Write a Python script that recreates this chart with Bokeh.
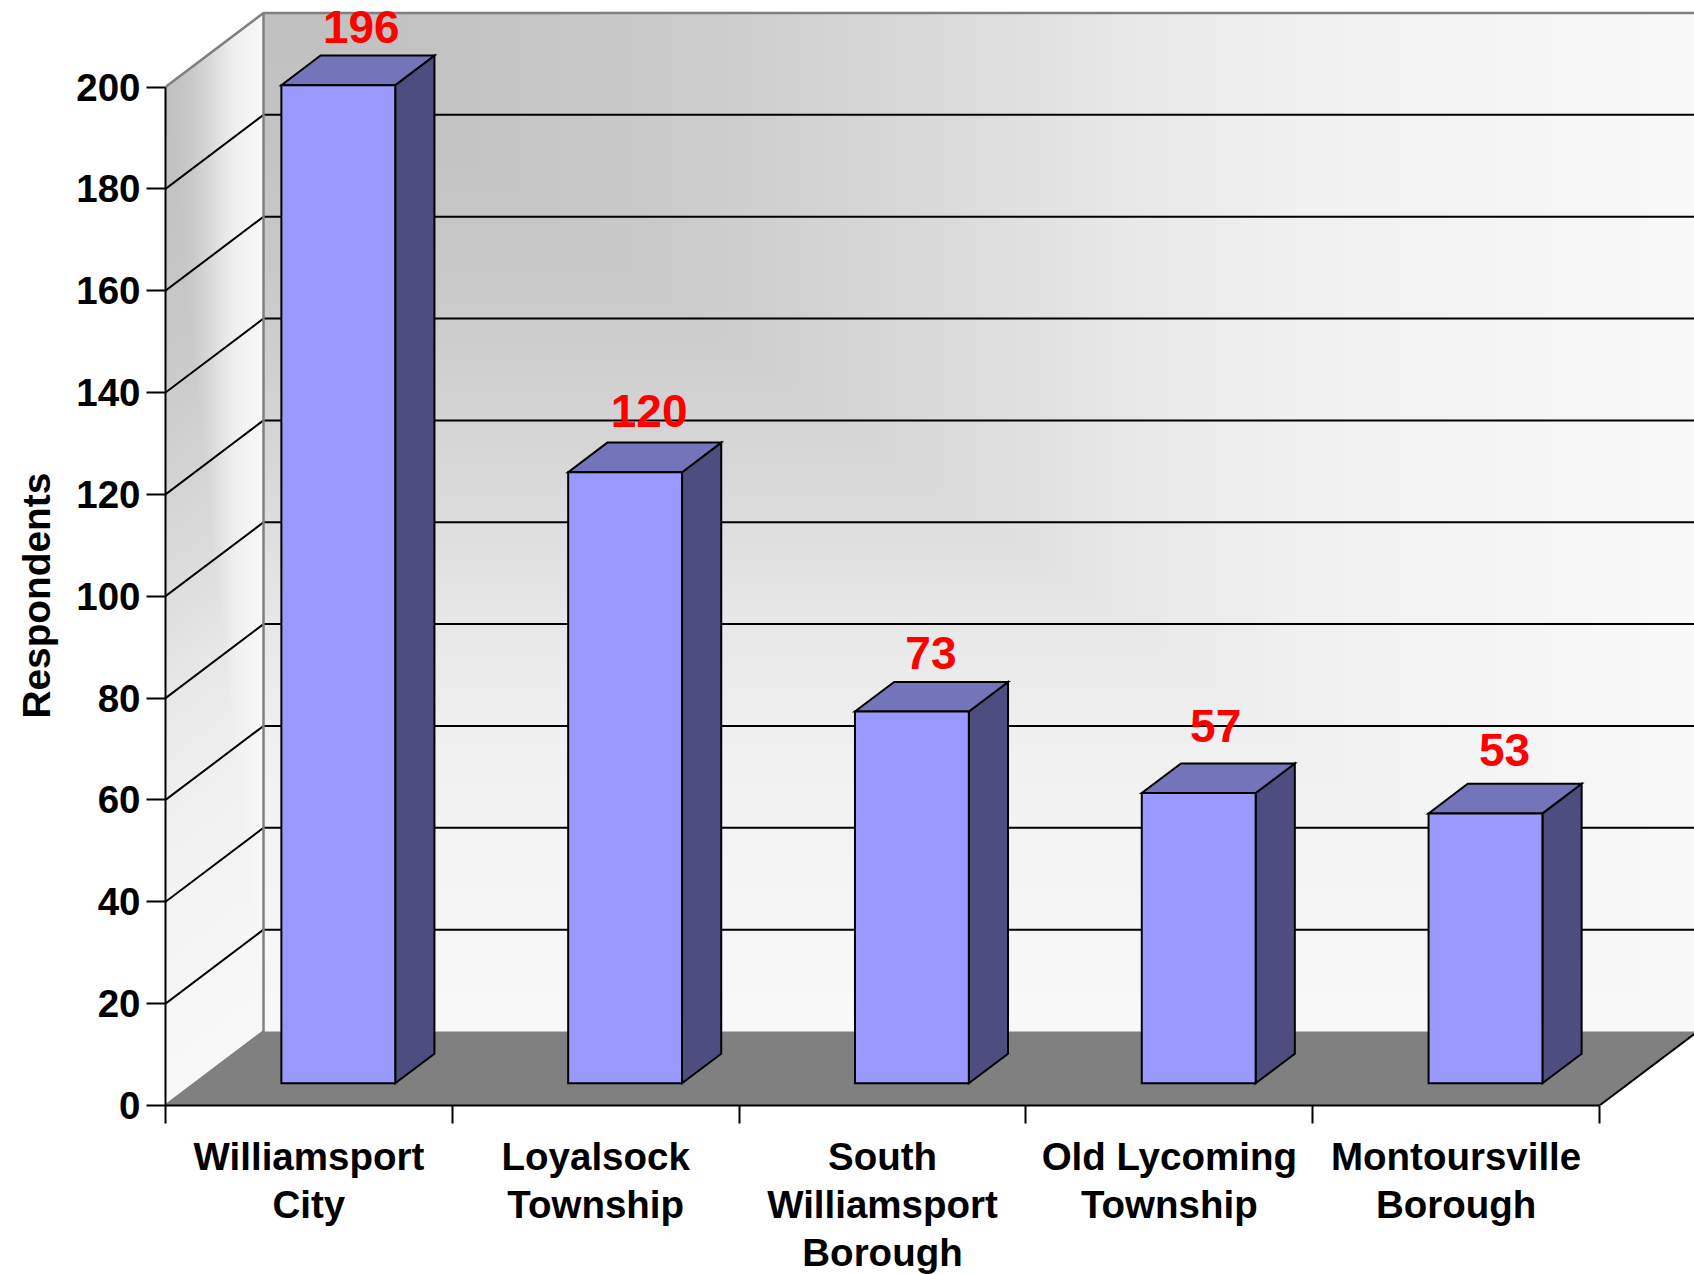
from bokeh.plotting import figure
from bokeh.models import Range1d, FixedTicker, ColumnDataSource, Title
from bokeh.embed import file_html
from bokeh.resources import INLINE
from bokeh.core.properties import value
import numpy as np

# --- data -----------------------------------------------------------------
categories = ["Williamsport\nCity", "Loyalsock\nTownship", "South\nWilliamsport\nBorough",
              "Old Lycoming\nTownship", "Montoursville\nBorough"]
respondents = [196, 120, 73, 57, 53]
y_ticks = [0, 20, 40, 60, 80, 100, 120, 140, 160, 180, 200]
y_title = "Respondents"

# --- style ----------------------------------------------------------------
FONT = "Liberation Sans"
PX_CAT, PX_VAL = 286.8, 5.0925          # pixels per category / per value unit
LEFT, TOP_PAD, FRAME_H = 165, 8, 1097   # frame position inside the figure
W, H = 1694, 1274
DX, DY = 98 / PX_CAT, 74 / PX_VAL       # full depth of the 3-D box in data units
Z0, DZ, BAR_W = 0.30, 0.40, 0.397       # bar depth start, depth, width
LABEL_DX = [23, 24, 19, 17, 19]         # label nudges, px
LABEL_UP = [58, 61, 59, 67, 63]
GRAD_T = [0, 0.1, 0.26, 0.454, 0.59, 0.72, 1]
GRAD_V = [192, 194, 200, 216, 230, 240, 248]
FRONT, SIDE, TOP, FLOOR, EDGE = "#9999FF", "#4D4D80", "#7474BB", "#808080", "#808080"

N = len(categories)
YMAX = y_ticks[-1]


def proj(x, y, z):
    return x + z * DX, y + z * DY


p = figure(width=W, height=H, frame_width=W - LEFT, frame_height=FRAME_H,
           x_range=Range1d(0, (W - LEFT) / PX_CAT), y_range=Range1d(0, FRAME_H / PX_VAL),
           output_backend="svg", toolbar_location=None, tools="",
           min_border_left=LEFT, min_border_right=0, min_border_top=TOP_PAD, min_border_bottom=0)
p.outline_line_color = None
p.grid.visible = False
p.background_fill_color = "white"
p.border_fill_color = "white"

# --- walls: nested shapes from light to dark, one per grey level ------------
levels = np.arange(GRAD_V[-1], GRAD_V[0] - 1, -1)
ts = np.interp(levels, GRAD_V, GRAD_T)
colors = ["#%02x%02x%02x" % (int(v), int(v), int(v)) for v in levels]
xs_back, ys_back, xs_side, ys_side = [], [], [], []
bx, by = proj(0, YMAX, 1)
for t in ts:
    xs_back.append([bx, bx + t * N, bx + t * N, bx])
    ys_back.append([by, by, by - t * YMAX, by - t * YMAX])
    a = proj(0, YMAX, 0)
    b = proj(0, YMAX, t)
    c = proj(0, YMAX - t * YMAX, t)
    d = proj(0, YMAX - t * YMAX, 0)
    xs_side.append([a[0], b[0], c[0], d[0]])
    ys_side.append([a[1], b[1], c[1], d[1]])
p.patches(xs_back, ys_back, fill_color=colors, line_color=None)
p.patches(xs_side, ys_side, fill_color=colors, line_color=None)

# floor
fx, fy = zip(proj(0, 0, 0), proj(N, 0, 0), proj(N, 0, 1), proj(0, 0, 1))
p.patch(list(fx), list(fy), fill_color=FLOOR, line_color=None)

# grid lines, on side wall and back wall
gx, gy = [], []
for v in y_ticks[1:-1]:
    a, b, c = proj(0, v, 0), proj(0, v, 1), proj(N, v, 1)
    gx.append([a[0], b[0], c[0]])
    gy.append([a[1], b[1], c[1]])
p.multi_line(gx, gy, line_color="black", line_width=2)

# box edges
e = [proj(0, YMAX, 0), proj(0, YMAX, 1), proj(N, YMAX, 1)]
p.line([q[0] for q in e], [q[1] for q in e], line_color=EDGE, line_width=2.5)
e = [proj(0, YMAX, 1), proj(0, 0, 1), proj(0, 0, 0)]
p.line([q[0] for q in e], [q[1] for q in e], line_color=EDGE, line_width=2.5)
e = [proj(N, 0, 0), proj(N, 0, 1)]
p.line([q[0] for q in e], [q[1] for q in e], line_color="black", line_width=2)

# --- bars ------------------------------------------------------------------
front_x, front_y, side_x, side_y, top_x, top_y = [], [], [], [], [], []
for i, v in enumerate(respondents):
    l = i + 0.5 - BAR_W / 2
    r = l + BAR_W
    z1, z2 = Z0, Z0 + DZ
    c = [proj(l, 0, z1), proj(r, 0, z1), proj(r, v, z1), proj(l, v, z1)]
    front_x.append([q[0] for q in c]); front_y.append([q[1] for q in c])
    c = [proj(r, 0, z1), proj(r, 0, z2), proj(r, v, z2), proj(r, v, z1)]
    side_x.append([q[0] for q in c]); side_y.append([q[1] for q in c])
    c = [proj(l, v, z1), proj(r, v, z1), proj(r, v, z2), proj(l, v, z2)]
    top_x.append([q[0] for q in c]); top_y.append([q[1] for q in c])
for xs, ys, col in [(side_x, side_y, SIDE), (top_x, top_y, TOP), (front_x, front_y, FRONT)]:
    p.patches(xs, ys, fill_color=col, line_color="black", line_width=2, line_join="miter")

# --- value labels ----------------------------------------------------------
lab = ColumnDataSource(dict(
    x=[proj(i + 0.5, v, Z0)[0] for i, v in enumerate(respondents)],
    y=[proj(i + 0.5, v, Z0)[1] for i, v in enumerate(respondents)],
    t=[str(v) for v in respondents],
    dx=LABEL_DX,
    dy=[-u for u in LABEL_UP],
))
p.text("x", "y", text="t", source=lab, x_offset="dx", y_offset="dy",
       text_color="#FF0000", text_font=value(FONT), text_font_style="bold",
       text_font_size="46px", text_align="center", text_baseline="alphabetic")

# --- axes ------------------------------------------------------------------
ya = p.yaxis[0]
ya.ticker = FixedTicker(ticks=y_ticks)
ya.bounds = (0, YMAX)
ya.major_tick_in = 0
ya.major_tick_out = 19
ya.minor_tick_line_color = None
ya.major_tick_line_width = 2
ya.axis_line_width = 2
ya.axis_line_color = "black"
ya.major_label_standoff = 6
ya.major_label_text_font = FONT
ya.major_label_text_font_style = "bold"
ya.major_label_text_font_size = "38.5px"
ya.major_label_text_color = "black"

# the value-axis title starts part-way up the frame, so that it is centred on 0..200
p.add_layout(Title(text=y_title, align="left", offset=387, vertical_align="top", standoff=27,
                   text_font=FONT, text_font_style="bold", text_font_size="38.8px",
                   text_color="black"), "left")

xa = p.xaxis[0]
centers = [i + 0.5 for i in range(N)]
xa.ticker = FixedTicker(ticks=centers, minor_ticks=list(range(N + 1)))
xa.bounds = (0, N)
xa.major_label_overrides = dict(zip(centers, categories))
xa.major_tick_line_color = None
xa.major_tick_in = 0
xa.major_tick_out = 18
xa.minor_tick_in = 0
xa.minor_tick_out = 18
xa.minor_tick_line_color = "black"
xa.minor_tick_line_width = 2
xa.axis_line_width = 2
xa.axis_line_color = "black"
xa.major_label_standoff = 11
xa.major_label_orientation = "horizontal"
xa.major_label_text_font = FONT
xa.major_label_text_font_style = "bold"
xa.major_label_text_font_size = "38.5px"
xa.major_label_text_color = "black"
xa.major_label_text_line_height = 1.12

open("out.html", "w").write(file_html(p, INLINE))
